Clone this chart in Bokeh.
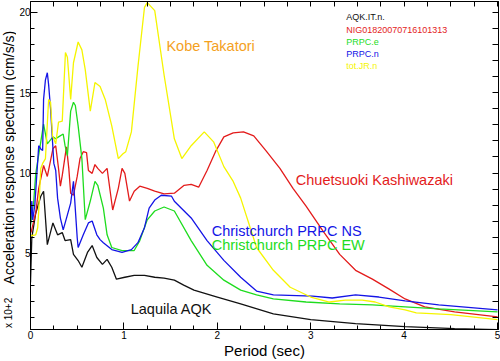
import math
from bokeh.plotting import figure
from bokeh.layouts import row
from bokeh.models import Range1d, LinearAxis, SingleIntervalTicker, FixedTicker, Label
from bokeh.embed import file_html
from bokeh.resources import INLINE

# ---- data (period in sec, acceleration response x100 cm/s/s) ----
aqk_x = [0.0, 0.014, 0.056, 0.11, 0.14, 0.18, 0.24, 0.29, 0.34, 0.37, 0.43, 0.46, 0.51, 0.55,
         0.61, 0.66, 0.71, 0.77, 0.82, 0.87, 0.92, 1.01, 1.11, 1.22, 1.33, 1.43, 1.54, 1.64,
         1.75, 2.0, 2.25, 2.6, 3.0, 3.48, 4.01, 4.54, 5.0]
aqk_y = [3.2, 5.98, 7.5, 8.56, 8.87, 5.55, 6.9, 6.16, 6.3, 5.8, 5.86, 4.94, 4.56, 4.14,
         5.06, 5.49, 4.75, 4.32, 4.63, 4.14, 3.4, 3.52, 3.64, 3.64, 3.52, 3.46, 3.34, 3.03,
         2.72, 2.29, 1.86, 1.24, 0.88, 0.63, 0.45, 0.33, 0.26]

nig_x = [0.005, 0.056, 0.088, 0.14, 0.18, 0.24, 0.27, 0.30, 0.32, 0.34, 0.385, 0.41, 0.43,
         0.46, 0.50, 0.53, 0.565, 0.60, 0.62, 0.66, 0.69, 0.72, 0.77, 0.82, 0.88, 0.94, 0.98,
         1.01, 1.06, 1.11, 1.17, 1.25, 1.33, 1.43, 1.54, 1.645, 1.72, 1.80, 1.89, 1.98, 2.07,
         2.17, 2.28, 2.39, 2.52, 2.67, 2.81, 2.95, 3.13, 3.31, 3.48, 3.66, 3.84, 4.01, 4.22,
         4.54, 5.0]
nig_y = [6.29, 7.52, 9.05, 10.47, 9.79, 11.51, 11.7, 10.29, 9.18, 9.85, 11.63, 10.29, 8.75,
         8.62, 9.79, 10.9, 11.33, 11.27, 10.16, 9.98, 10.53, 10.29, 9.98, 10.29, 7.7, 9.05, 10.29,
         9.98, 8.26, 8.87, 9.18, 9.05, 8.87, 8.7, 8.75, 9.24, 9.3, 9.12, 10.16, 11.33, 12.25,
         12.5, 12.56, 12.31, 11.39, 10.29, 9.05, 7.95, 6.41, 4.94, 3.95, 3.4, 2.78, 2.17, 1.68,
         1.37, 1.06]

prpce_x = [0.0, 0.035, 0.056, 0.11, 0.14, 0.18, 0.24, 0.27, 0.30, 0.35, 0.37, 0.395, 0.43,
           0.46, 0.48, 0.51, 0.55, 0.586, 0.64, 0.69, 0.72, 0.78, 0.82, 0.87, 0.98, 1.11, 1.17,
           1.25, 1.33, 1.43, 1.54, 1.72, 1.89, 2.07, 2.25, 2.42, 2.60, 2.95, 3.31, 3.66, 4.01,
           4.37, 5.0]
prpce_y = [6.72, 8.26, 9.97, 11.94, 13.05, 11.82, 12.25, 12.13, 12.25, 12.43, 11.7, 11.08, 13.85,
           14.4, 14.2, 12.93, 10.9, 7.1, 8.26, 9.48, 9.24, 7.82, 6.16, 5.37, 5.18, 5.18, 5.8,
           7.09, 7.64, 7.89, 7.64, 5.8, 4.26, 3.34, 2.72, 2.42, 2.17, 1.98, 1.86, 1.8, 1.68,
           1.55, 1.37]

prpcn_x = [0.0, 0.014, 0.024, 0.046, 0.088, 0.11, 0.13, 0.14, 0.16, 0.18, 0.194, 0.215, 0.236,
           0.25, 0.27, 0.29, 0.32, 0.35, 0.395, 0.43, 0.46, 0.50, 0.51, 0.565, 0.62, 0.66, 0.71,
           0.745, 0.78, 0.87, 0.98, 1.08, 1.15, 1.22, 1.27, 1.33, 1.40, 1.51, 1.54, 1.72, 1.89,
           2.07, 2.25, 2.42, 2.60, 3.02, 3.23, 3.48, 3.73, 4.01, 4.37, 5.0]
prpcn_y = [6.9, 8.26, 7.09, 8.0, 11.7, 11.5, 11.4, 14.58, 15.8, 16.24, 15.5, 13.97, 11.94,
           10.6, 10.16, 8.44, 7.2, 6.47, 7.4, 8.13, 9.48, 5.98, 5.37, 6.16, 6.9, 7.02, 6.16,
           5.86, 5.67, 5.24, 5.06, 5.24, 5.67, 6.6, 7.82, 8.32, 8.62, 8.56, 8.25, 7.21, 5.8,
           4.57, 3.52, 2.66, 2.42, 2.35, 2.23, 2.42, 2.29, 2.05, 1.8, 1.49]

jr_x = [0.0, 0.056, 0.077, 0.088, 0.11, 0.13, 0.16, 0.194, 0.215, 0.236, 0.27, 0.30, 0.34,
        0.374, 0.395, 0.43, 0.46, 0.51, 0.55, 0.586, 0.64, 0.69, 0.745, 0.80, 0.87, 0.94,
        0.99, 1.02, 1.08, 1.15, 1.22, 1.25, 1.33, 1.43, 1.54, 1.62, 1.72, 1.86, 1.96, 2.07,
        2.17, 2.25, 2.42, 2.60, 2.78, 3.0, 3.2, 3.37, 3.55, 3.69, 3.84, 4.01, 4.13, 4.50, 5.0]
jr_y = [6.1, 6.16, 6.6, 7.64, 10.28, 10.6, 10.9, 14.58, 14.4, 12.3, 11.82, 13.17, 13.23,
        17.5, 17.2, 14.58, 16.86, 18.15, 17.66, 16.43, 13.85, 15.63, 15.38, 14.58, 12.93, 10.9,
        11.2, 11.33, 12.56, 16.6, 20.3, 20.6, 20.1, 16.1, 12.13, 10.9, 11.7, 12.56, 11.94, 10.4,
        9.48, 8.44, 5.37, 3.95, 2.9, 2.29, 1.98, 2.1, 2.1, 1.98, 1.68, 1.49, 1.31, 1.19, 0.88]

legend_names = ["AQK.IT.n.", "NIG01820070716101313", "PRPC.e", "PRPC.n", "tot.JR.n"]
legend_y = [19.69, 18.92, 18.15, 17.41, 16.68]
legend_x = 3.38

station_labels = ["Kobe Takatori", "Chuetsuoki Kashiwazaki", "Christchurch PRPC NS",
                  "Christchurch PRPC EW", "Laquila AQK"]
station_x = [1.455, 2.84, 1.94, 1.94, 1.073]
station_y = [17.9, 9.55, 6.41, 5.55, 1.55]

y_title = "Acceleration response spectrum (cm/s/s)"
y_multiplier = "x 10+2"
x_title = "Period (sec)"

BLACK = "#111111"
RED = "#E31B1B"
GREEN = "#1EDC1E"
BLUE = "#1414E6"
YELLOW = "#F5F500"
ORANGE = "#F4A11E"
SANS = "Liberation Sans"

W, H = 500, 361
STRIP_W = 16

yr = Range1d(0.27, 20.67)

# ---- narrow strip on the left holding the rotated y-axis texts (frame aligned with plot) ----
strip = figure(width=STRIP_W, height=H, output_backend="svg", toolbar_location=None,
               x_range=Range1d(0, STRIP_W), y_range=yr,
               x_axis_location=None, y_axis_location=None, min_border=0)
strip.outline_line_color = None
strip.grid.visible = False
strip.background_fill_color = "white"
strip.border_fill_color = "white"
strip.add_layout(Label(x=8, y=10.96, text=y_title, angle=math.pi / 2, text_font=SANS,
                       text_font_size="14px", text_color="black", text_align="center",
                       text_baseline="middle"))
strip.add_layout(Label(x=8, y=1.3, text=y_multiplier, angle=math.pi / 2, text_font=SANS,
                       text_font_size="10px", text_color="black", text_align="center",
                       text_baseline="middle"))

# ---- main plot ----
p = figure(width=W - STRIP_W, height=H, output_backend="svg", toolbar_location=None,
           x_range=Range1d(0, 5.01), y_range=yr,
           x_axis_location=None, y_axis_location=None,
           min_border_left=9, min_border_right=2, min_border_top=1, min_border_bottom=28)
p.grid.visible = False
p.outline_line_color = "black"
p.background_fill_color = "white"
p.border_fill_color = "white"


def style_axis(ax):
    ax.axis_line_color = "black"
    ax.axis_line_width = 1
    ax.major_tick_in = 7
    ax.major_tick_out = 0
    ax.minor_tick_in = 4
    ax.minor_tick_out = 0
    ax.major_tick_line_color = "black"
    ax.minor_tick_line_color = "black"
    ax.major_label_text_font = SANS
    ax.major_label_text_font_size = "10px"
    ax.major_label_text_color = "black"
    ax.major_label_standoff = 1


bottom = LinearAxis(ticker=SingleIntervalTicker(interval=1, num_minor_ticks=4))
style_axis(bottom)
bottom.axis_label = x_title
bottom.axis_label_text_font = SANS
bottom.axis_label_text_font_size = "15px"
bottom.axis_label_text_font_style = "normal"
bottom.axis_label_text_color = "black"
bottom.axis_label_standoff = 0
p.add_layout(bottom, "below")

left = LinearAxis(ticker=SingleIntervalTicker(interval=5, num_minor_ticks=5))
style_axis(left)
left.major_label_standoff = 0
p.add_layout(left, "left")

top_minor = [i * 0.25 for i in range(1, 21)]
right_minor = [float(i) for i in range(1, 21)]
top = LinearAxis(ticker=FixedTicker(ticks=[], minor_ticks=top_minor))
style_axis(top)
top.minor_tick_in = 5
p.add_layout(top, "above")
right = LinearAxis(ticker=FixedTicker(ticks=[], minor_ticks=right_minor))
style_axis(right)
right.minor_tick_in = 6
p.add_layout(right, "right")

series = [(aqk_x, aqk_y, BLACK), (nig_x, nig_y, RED), (prpce_x, prpce_y, GREEN),
          (prpcn_x, prpcn_y, BLUE), (jr_x, jr_y, YELLOW)]
for xs, ys, col in series:
    p.line(xs, ys, line_color=col, line_width=1.3)

label_cols = [ORANGE, RED, BLUE, GREEN, BLACK]
for t, x, y, c in zip(station_labels, station_x, station_y, label_cols):
    p.add_layout(Label(x=x, y=y, text=t, text_font=SANS, text_font_size="14.5px",
                       text_color=c, text_baseline="middle", text_align="left"))

legend_cols = [BLACK, RED, GREEN, BLUE, YELLOW]
for t, y, c in zip(legend_names, legend_y, legend_cols):
    p.add_layout(Label(x=legend_x, y=y, text=t, text_font=SANS, text_font_size="9px",
                       text_color=c, text_baseline="middle", text_align="left"))

layout = row(strip, p, width=W, height=H)
open("out.html", "w").write(file_html(layout, INLINE))
